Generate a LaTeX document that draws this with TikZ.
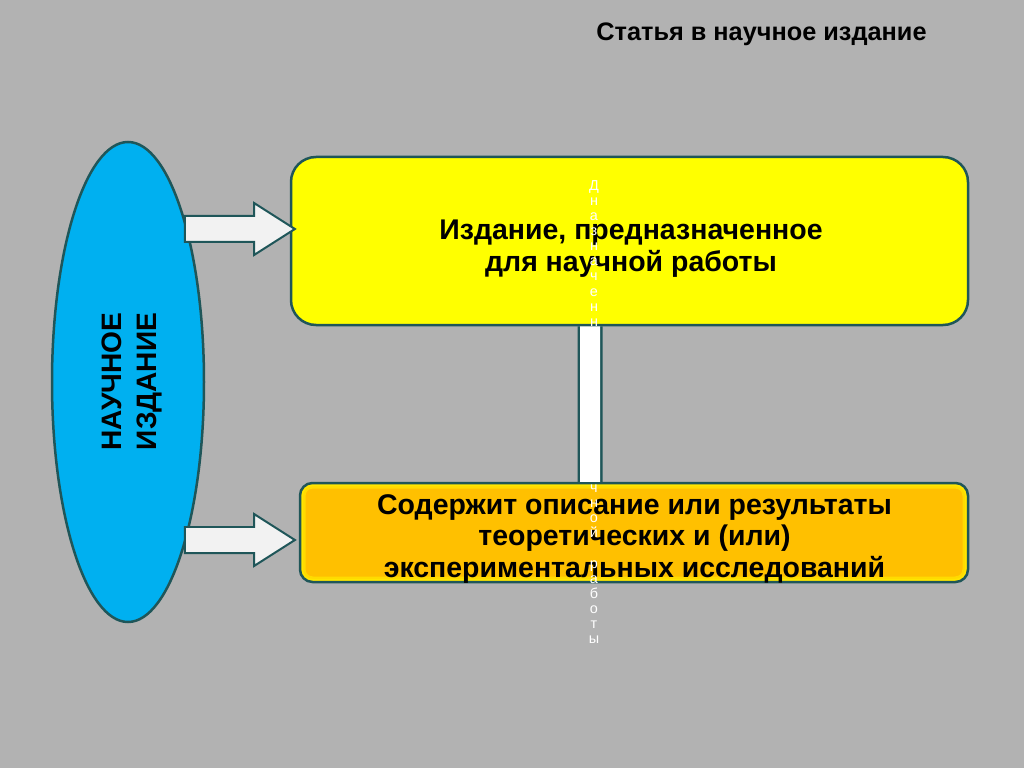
\documentclass[tikz,border=0pt]{standalone}
\usepackage{fontspec}
\setmainfont{Liberation Sans}
\usetikzlibrary{shapes.geometric, shapes.arrows, positioning}
\definecolor{clrBack}{HTML}{B2B2B2}
\definecolor{clrEdge}{HTML}{1F5659}
\definecolor{clrOval}{HTML}{00B0F0}
\definecolor{clrWork}{HTML}{FFFF00}
\definecolor{clrStudy}{HTML}{FFC000}
\definecolor{clrGlow}{HTML}{FFE600}
\definecolor{clrArrow}{HTML}{F2F2F2}

\begin{document}
\begin{tikzpicture}[
    oval/.style={ellipse, draw=clrEdge, fill=clrOval, minimum width=3.04cm, minimum height=9.6cm, inner sep=0pt, line width=0.05cm},
    infobox/.style={rectangle, draw=clrEdge, minimum width=13.4cm, align=center, line width=0.05cm},
    glowbox/.style={path picture={
        \draw[clrGlow!70!clrStudy, line width=0.22cm, rounded corners=0.25cm] (path picture bounding box.south west) rectangle (path picture bounding box.north east);
        \draw[clrGlow, line width=0.12cm, rounded corners=0.25cm] (path picture bounding box.south west) rectangle (path picture bounding box.north east);}},
    boxtext/.style={align=center, font=\fontsize{16.2}{18.2}\selectfont\bfseries},
    blockarrow/.style={single arrow, draw=clrEdge, fill=clrArrow, line width=0.04cm, inner sep=0pt, inner ysep=0.24cm, single arrow head extend=0.26cm, single arrow tip angle=65, minimum height=2.2cm},
    barlink/.style={draw=clrEdge, line width=0.05cm, double=white, double distance=0.4cm},
    vtext/.style={align=center, inner sep=0pt, text=white, font=\fontsize{8.2}{8.6}\selectfont},
]
\fill[clrBack] (0,0) rectangle (20.48,-15.36);
\useasboundingbox (0,0) rectangle (20.48,-15.36);

% Title
\node[font=\fontsize{14.4}{16}\selectfont\bfseries] (title) at (15.23,-0.68) {Статья в научное издание};

% Boxes
\node[infobox, fill=clrWork, minimum width=13.54cm, minimum height=3.36cm, rounded corners=0.5cm] (work) at (12.59,-4.82) {};
\node[infobox, glowbox, fill=clrStudy, minimum width=13.36cm, minimum height=1.98cm, rounded corners=0.25cm] (study) at (12.68,-10.65) {};
\node[boxtext] (worktext) at (12.62,-4.98) {Издание, предназначенное\\для научной работы};
\node[boxtext] (studytext) at (12.69,-10.78) {Содержит описание или результаты\\теоретических и (или)\\экспериментальных исследований};

% Hidden vertical text
\node[vtext, anchor=north] (vword) at (11.88,-3.6) {Д\\н\\а\\з\\н\\а\\ч\\е\\н\\н\\о\\е\\~\\д\\л\\я\\~\\н\\а\\у\\ч\\н\\о\\й\\~\\р\\а\\б\\о\\т\\ы};

% Link between boxes
\draw[barlink] ([xshift=-0.79cm]work.south) -- ([xshift=-0.88cm]study.north);

% Oval
\node[oval] (pub) at (2.56,-7.64) {};
\node[rotate=90, align=center, font=\fontsize{16}{20}\selectfont\bfseries] (pubtext) at (2.64,-7.63) {НАУЧНОЕ\\ИЗДАНИЕ};

% Block arrows
\node[blockarrow, anchor=tip] (arr1) at ([shift={(0.14cm,0.24cm)}]work.west) {};
\node[blockarrow, anchor=tip] (arr2) at ([shift={(-0.04cm,-0.15cm)}]study.west) {};

\end{tikzpicture}
\end{document}
